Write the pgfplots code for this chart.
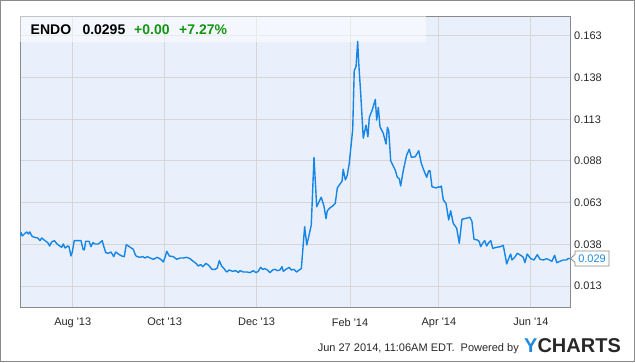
\documentclass[border=0pt]{standalone}
\usepackage{pgfplots}
\pgfplotsset{compat=1.18}
\usepackage{fontspec}
\setmainfont{Liberation Sans}
\definecolor{bgblue}{RGB}{233,240,251}
\definecolor{gridgray}{RGB}{214,214,214}
\definecolor{framegray}{RGB}{138,138,138}
\definecolor{lineblue}{RGB}{22,134,230}
\definecolor{upgreen}{RGB}{18,150,18}
\definecolor{txtgray}{RGB}{40,40,40}
\definecolor{logoblue}{RGB}{30,138,219}
\begin{document}
\begin{tikzpicture}[x=1bp,y=1bp]
\fill[white] (0,0) rectangle (635,362);
\draw[framegray, line width=1bp] (0.5,0.5) rectangle (634.5,361.5);
\useasboundingbox (0,0) rectangle (635,362);
\begin{axis}[
  at={(20bp,55bp)}, anchor=south west,
  scale only axis, width=550bp, height=291bp,
  xmin=0, xmax=365, ymin=0.0004, ymax=0.1749,
  axis background/.style={fill=bgblue},
  axis line style={framegray, line width=0.9bp},
  xtick={35,96,157,219,278,339},
  xticklabels={Aug \textquotesingle13, Oct \textquotesingle13, Dec \textquotesingle13, Feb \textquotesingle14, Apr \textquotesingle14, Jun \textquotesingle14},
  ytick={0.013,0.038,0.063,0.088,0.113,0.138,0.163},
  scaled y ticks=false,
  yticklabel pos=right,
  yticklabel style={/pgf/number format/fixed, /pgf/number format/fixed zerofill, /pgf/number format/precision=3, /pgf/number format/assume math mode=true},
  grid=major, major grid style={gridgray, line width=0.9bp},
  major tick length=0pt, tick style={draw=none},
  ticklabel style={font=\fontsize{11bp}{13bp}\selectfont, text=txtgray, inner sep=0pt},
  yticklabel style={anchor=west, xshift=4bp},
  xticklabel style={anchor=north, yshift=-11bp},
  clip=true,
]
\fill[white, opacity=0.5] (rel axis cs:0,0.911) rectangle (rel axis cs:0.738,1);
\addplot[lineblue, line width=1.4bp, line join=round, no marks] coordinates {
(0,0.0430)(0.7,0.0450)(1.5,0.0430)(3.3,0.0446)(4.6,0.0454)(5.5,0.0442)(6.6,0.0454)(7.8,0.0430)(9.5,0.0422)(11.7,0.0418)(13.3,0.0402)(14.4,0.0418)(16.6,0.0402)(18.4,0.0390)(19.7,0.0370)(21.0,0.0394)(22.8,0.0402)(24.6,0.0382)(26.3,0.0370)(27.7,0.0362)(28.7,0.0382)(29.9,0.0358)(31.7,0.0370)(32.5,0.0366)(33.8,0.0310)(34.7,0.0334)(36.0,0.0402)(38.7,0.0402)(40.5,0.0402)(41.8,0.0350)(42.7,0.0346)(43.6,0.0398)(45.8,0.0398)(47.1,0.0366)(48.4,0.0390)(49.8,0.0382)(52.0,0.0382)(54.6,0.0402)(55.5,0.0370)(56.9,0.0330)(58.6,0.0326)(60.4,0.0334)(62.2,0.0306)(63.5,0.0334)(65.2,0.0322)(67.5,0.0310)(69.2,0.0306)(70.5,0.0378)(73.2,0.0362)(75.2,0.0350)(76.3,0.0322)(77.0,0.0310)(79.2,0.0302)(81.4,0.0306)(83.0,0.0298)(84.5,0.0306)(86.3,0.0298)(88.5,0.0290)(91.1,0.0302)(93.4,0.0290)(95.1,0.0274)(96.4,0.0306)(97.4,0.0338)(99.1,0.0310)(101.7,0.0306)(104.0,0.0290)(106.2,0.0298)(108.4,0.0298)(110.6,0.0302)(112.8,0.0294)(115.0,0.0278)(116.8,0.0266)(118.3,0.0250)(119.9,0.0258)(121.2,0.0246)(123.4,0.0266)(125.2,0.0254)(127.4,0.0230)(129.6,0.0230)(130.9,0.0238)(132.3,0.0282)(133.8,0.0250)(135.4,0.0234)(137.2,0.0214)(138.9,0.0226)(141.1,0.0218)(143.3,0.0222)(144.9,0.0210)(146.0,0.0222)(148.2,0.0214)(150.8,0.0214)(152.6,0.0210)(154.8,0.0222)(156.6,0.0210)(158.1,0.0218)(159.7,0.0242)(161.1,0.0230)(162.6,0.0234)(164.1,0.0226)(165.9,0.0210)(167.7,0.0226)(169.4,0.0230)(170.7,0.0222)(172.5,0.0226)(173.9,0.0246)(174.7,0.0218)(176.5,0.0230)(178.7,0.0242)(180.0,0.0226)(181.8,0.0230)(183.6,0.0214)(185.3,0.0226)(186.7,0.0234)(188.9,0.0486)(190.3,0.0376)(191.6,0.0426)(193.3,0.0496)(195.1,0.0902)(196.9,0.0605)(198.6,0.0638)(199.9,0.0662)(201.7,0.0610)(203.1,0.0534)(203.9,0.0581)(205.7,0.0598)(207.5,0.0610)(209.2,0.0626)(210.6,0.0718)(212.4,0.0742)(213.7,0.0758)(214.5,0.0830)(215.9,0.0766)(217.2,0.0794)(218.5,0.0866)(220.8,0.1069)(221.8,0.1421)(223.0,0.1445)(224.1,0.1597)(224.8,0.1465)(226.1,0.1285)(227.8,0.1016)(229.6,0.1095)(230.9,0.1025)(231.8,0.1141)(233.6,0.1181)(235.8,0.1249)(236.7,0.1125)(237.8,0.1201)(238.9,0.1085)(241.1,0.1045)(242.9,0.0981)(243.8,0.1081)(244.7,0.1061)(246.0,0.0881)(247.7,0.0849)(249.0,0.0825)(250.4,0.0782)(251.7,0.0773)(252.6,0.0730)(254.4,0.0825)(256.6,0.0915)(258.3,0.0950)(259.7,0.0902)(262.3,0.0905)(264.6,0.0941)(266.3,0.0866)(268.1,0.0821)(269.9,0.0782)(271.2,0.0821)(272.1,0.0821)(273.4,0.0725)(276.1,0.0718)(277.8,0.0725)(278.7,0.0722)(279.6,0.0730)(280.9,0.0646)(282.7,0.0626)(284.5,0.0526)(285.8,0.0581)(287.5,0.0506)(289.8,0.0476)(291.5,0.0386)(293.3,0.0530)(296.0,0.0536)(298.6,0.0542)(299.9,0.0518)(301.3,0.0410)(303.5,0.0406)(304.8,0.0396)(305.7,0.0366)(307.0,0.0386)(308.4,0.0402)(309.7,0.0370)(311.0,0.0390)(312.4,0.0402)(313.7,0.0356)(316.3,0.0362)(319.0,0.0366)(320.7,0.0374)(322.1,0.0306)(323.0,0.0262)(324.3,0.0294)(325.6,0.0322)(326.5,0.0286)(328.3,0.0302)(330.0,0.0326)(332.3,0.0314)(334.0,0.0302)(335.1,0.0270)(336.6,0.0322)(338.9,0.0294)(341.1,0.0286)(343.3,0.0318)(345.1,0.0290)(347.3,0.0286)(349.5,0.0294)(353.0,0.0278)(354.8,0.0314)(356.2,0.0270)(358.3,0.0278)(360.5,0.0286)(362.8,0.0286)(363.7,0.0294)(365,0.0295)
};
\coordinate (last) at (axis cs:365,0.0295);
\end{axis}
% header
\node[anchor=base west, inner sep=0pt, font=\bfseries\fontsize{14bp}{16bp}\selectfont, text=black] at (30.5,328) {ENDO};
\node[anchor=base west, inner sep=0pt, font=\bfseries\fontsize{14bp}{16bp}\selectfont, text=black] at (82.3,328) {0.0295};
\node[anchor=base west, inner sep=0pt, font=\bfseries\fontsize{14bp}{16bp}\selectfont, text=upgreen] at (134,328) {+0.00};
\node[anchor=base west, inner sep=0pt, font=\bfseries\fontsize{14bp}{16bp}\selectfont, text=upgreen] at (179,328) {+7.27\%};
% last value callout
\draw[framegray, fill=white, line width=0.8bp] ([xshift=0.5bp]last) -- ++(4.5,4) -- ++(0,3.5) -- ++(34,0) -- ++(0,-15) -- ++(-34,0) -- ++(0,3.5) -- cycle;
\node[anchor=center, inner sep=0pt, font=\fontsize{11bp}{13bp}\selectfont, text=logoblue] at ([xshift=22bp]last) {0.029};
% footer
\node[anchor=base east, inner sep=0pt, font=\fontsize{11bp}{13bp}\selectfont, text=txtgray] at (519,11) {Jun 27 2014, 11:06AM EDT.\ \ Powered by};
\node[anchor=base west, inner sep=0pt, font=\bfseries\fontsize{20bp}{22bp}\selectfont] at (524,9.5) {\textcolor{logoblue}{Y}\textcolor{txtgray}{CHARTS}};
\end{tikzpicture}
\end{document}
